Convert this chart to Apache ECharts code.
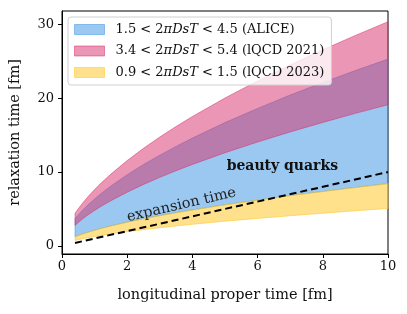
<!DOCTYPE html>
<html><head><meta charset="utf-8">
<script src="https://cdn.jsdelivr.net/npm/echarts@6/dist/echarts.min.js"></script>
<style>html,body{margin:0;padding:0;background:#fff}#c{width:407px;height:314px}</style>
</head><body><div id="c"></div>
<script>
// longitudinal proper time [fm]
const tau = [0.4, 0.5, 0.6, 0.7, 0.8, 1, 1.2, 1.5, 2, 2.5, 3, 3.5, 4, 5, 6, 7, 8, 9, 10];
// ALICE band (1.5 < 2piDsT < 4.5)
const aliceLow  = [1.22, 1.40, 1.56, 1.71, 1.85, 2.12, 2.36, 2.70, 3.21, 3.67, 4.09, 4.49, 4.86, 5.56, 6.20, 6.81, 7.37, 7.91, 8.43];
const aliceHigh = [3.67, 4.19, 4.68, 5.13, 5.56, 6.35, 7.09, 8.10, 9.63, 11.01, 12.28, 13.47, 14.59, 16.69, 18.61, 20.42, 22.12, 23.74, 25.29];
// lQCD 2021 band (3.4 < 2piDsT < 5.4)
const lqcd21Low  = [2.77, 3.17, 3.53, 3.88, 4.20, 4.80, 5.36, 6.12, 7.27, 8.32, 9.28, 10.18, 11.03, 12.61, 14.06, 15.43, 16.71, 17.94, 19.11];
const lqcd21High = [4.40, 5.03, 5.61, 6.16, 6.67, 7.62, 8.51, 9.72, 11.55, 13.21, 14.74, 16.17, 17.51, 20.02, 22.33, 24.51, 26.55, 28.49, 30.35];
// lQCD 2023 band (0.9 < 2piDsT < 1.5)
const lqcd23Low  = [0.73, 0.84, 0.94, 1.03, 1.11, 1.27, 1.42, 1.62, 1.93, 2.20, 2.46, 2.69, 2.92, 3.34, 3.72, 4.08, 4.42, 4.75, 5.06];
const lqcd23High = [1.22, 1.40, 1.56, 1.71, 1.85, 2.12, 2.36, 2.70, 3.21, 3.67, 4.09, 4.49, 4.86, 5.56, 6.20, 6.81, 7.37, 7.91, 8.43];
// expansion time line
const expTau  = [0.4, 10];
const expTime = [0.4, 10];
// ticks
const xTicks = [0, 2, 4, 6, 8, 10];
const yTicks = [0, 10, 20, 30];
// legend
const bandNames = ['ALICE', 'lQCD 2021', 'lQCD 2023'];
const bandRanges = [['1.5', '4.5'], ['3.4', '5.4'], ['0.9', '1.5']];

const FONT = 'DejaVu Serif';
const BLUE = 'rgba(55,145,225,0.5)';
const PINK = 'rgba(215,45,105,0.5)';
const YELLOW = 'rgba(255,195,25,0.5)';
const fills = [BLUE, PINK, YELLOW];

const chart = echarts.init(document.getElementById('c'), null, {renderer: 'canvas'});
function pairs(xs, ys) { return xs.map((x, i) => [x, ys[i]]); }
function bandSeries(name, low, high, color) {
  return {
    name: name, type: 'custom', coordinateSystem: 'cartesian2d', data: [[tau[0], low[0]]],
    silent: true, z: 2, itemStyle: {color: color},
    renderItem: function (params, api) {
      const pts = [];
      for (let i = 0; i < tau.length; i++) pts.push(api.coord([tau[i], high[i]]));
      for (let i = tau.length - 1; i >= 0; i--) pts.push(api.coord([tau[i], low[i]]));
      return {type: 'polygon', shape: {points: pts}, style: {fill: color, stroke: color, lineWidth: 1}};
    }
  };
}

const series = [
  bandSeries(bandNames[0], aliceLow, aliceHigh, BLUE),
  bandSeries(bandNames[1], lqcd21Low, lqcd21High, PINK),
  bandSeries(bandNames[2], lqcd23Low, lqcd23High, YELLOW),
  {name: 'expansion', type: 'line', data: pairs(expTau, expTime), symbol: 'none',
   lineStyle: {color: '#000', width: 2, type: [7, 4]}, z: 5, silent: true}
];

const labelStyle = {color: '#111', fontFamily: FONT, fontSize: 13};

chart.setOption({
  animation: false,
  grid: {left: 61, right: 19, top: 11, bottom: 60, show: true, borderColor: '#000', borderWidth: 1, backgroundColor: 'transparent'},
  xAxis: {
    type: 'value', min: 0, max: 10, interval: 2,
    axisLine: {show: true, onZero: false, lineStyle: {color: '#000', width: 1}},
    axisTick: {show: true, inside: false, length: 4, lineStyle: {color: '#000'}},
    axisLabel: Object.assign({margin: 6}, labelStyle),
    splitLine: {show: false},
    name: 'longitudinal proper time [fm]', nameLocation: 'middle', nameGap: 34,
    nameTextStyle: {color: '#111', fontFamily: FONT, fontSize: 14.5}
  },
  yAxis: {
    type: 'value', min: -1.1, max: 31.8,
    axisLine: {show: true, onZero: false, lineStyle: {color: '#000', width: 1}},
    axisTick: {show: true, inside: false, length: 4, customValues: yTicks, lineStyle: {color: '#000'}},
    axisLabel: Object.assign({margin: 8, customValues: yTicks}, labelStyle),
    splitLine: {show: false},
    name: 'relaxation time [fm]', nameLocation: 'middle', nameGap: 39,
    nameTextStyle: {color: '#111', fontFamily: FONT, fontSize: 14.5}
  },
  legend: {
    orient: 'vertical', left: 68, top: 17, selectedMode: false,
    icon: 'rect', itemWidth: 30, itemHeight: 10, itemGap: 8.5,
    padding: [6, 7, 6, 6],
    backgroundColor: 'rgba(255,255,255,0.8)', borderColor: '#d0d0d0', borderWidth: 1, borderRadius: 3,
    data: bandNames.map((n, i) => ({name: n, itemStyle: {color: fills[i], borderColor: fills[i], borderWidth: 1}})),
    formatter: function (name) {
      const i = bandNames.indexOf(name);
      return '{n|' + bandRanges[i][0] + ' < 2}{i|πDsT}{n| < ' + bandRanges[i][1] + ' (' + name + ')}';
    },
    textStyle: {
      padding: [0, 0, 0, 6],
      rich: {
        n: {fontFamily: FONT, fontSize: 13, color: '#111'},
        i: {fontFamily: FONT, fontSize: 13, fontStyle: 'italic', color: '#111'}
      }
    }
  },
  series: series
});

const pBeauty = chart.convertToPixel({gridIndex: 0}, [5.05, 9.8]);
const pExp = chart.convertToPixel({gridIndex: 0}, [2.05, 2.85]);
chart.setOption({
  graphic: [
    {type: 'text', x: pBeauty[0], y: pBeauty[1], z: 10,
     style: {text: 'beauty quarks', fontFamily: FONT, fontSize: 14, fontWeight: 'bold', fill: '#111', align: 'left', verticalAlign: 'bottom'}},
    {type: 'text', x: pExp[0], y: pExp[1], rotation: 13 * Math.PI / 180, z: 10,
     style: {text: 'expansion time', fontFamily: FONT, fontSize: 14.5, fill: '#222', align: 'left', verticalAlign: 'bottom'}}
  ]
});
</script>
</body></html>
